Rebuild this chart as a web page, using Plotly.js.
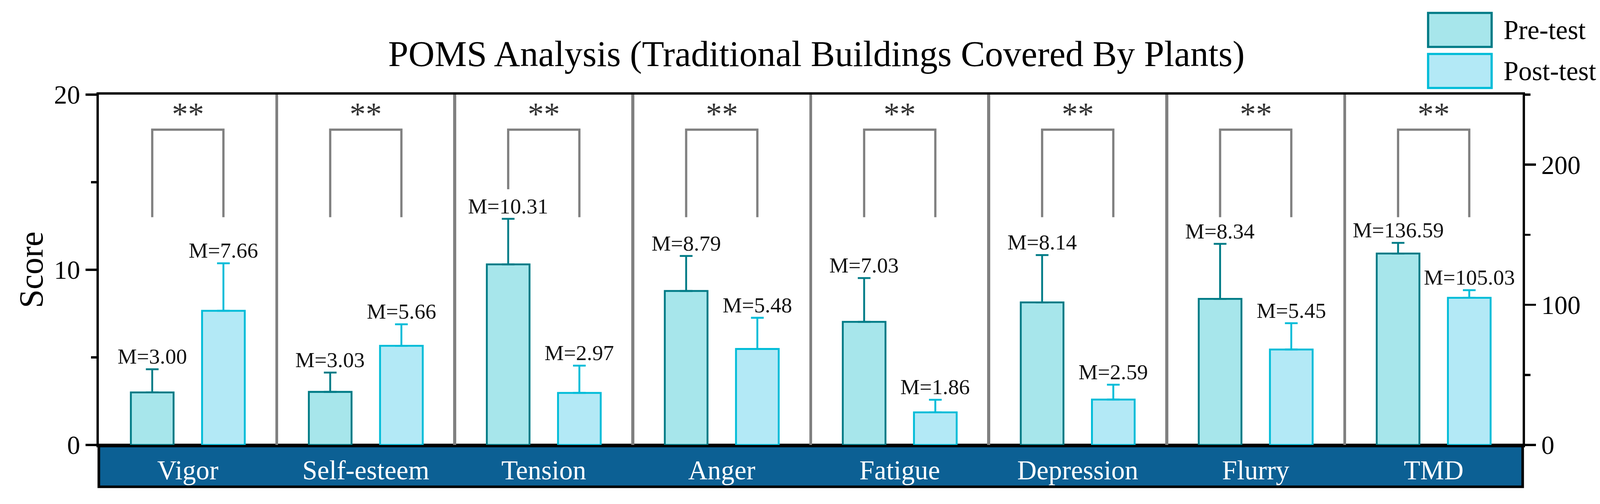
<!DOCTYPE html>
<html>
<head>
<meta charset="utf-8">
<script src="https://cdn.plot.ly/plotly-3.0.1.min.js"></script>
<style>
html,body{margin:0;padding:0;background:#fff;overflow:hidden;}
#chart{position:absolute;left:0;top:0;width:100vw;height:100vh;}
</style>
</head>
<body>
<div id="chart"></div>
<script>
// ---------------- data ----------------
const categories = ['Vigor', 'Self-esteem', 'Tension', 'Anger', 'Fatigue', 'Depression', 'Flurry', 'TMD'];
const leftCategories = ['Vigor', 'Self-esteem', 'Tension', 'Anger', 'Fatigue', 'Depression', 'Flurry'];
const rightCategories = ['TMD'];
const preMeans  = [3.00, 3.03, 10.31, 8.79, 7.03, 8.14, 8.34, 136.59];
const postMeans = [7.66, 5.66, 2.97, 5.48, 1.86, 2.59, 5.45, 105.03];
const preErr    = [1.32, 1.10, 2.60, 2.00, 2.50, 2.70, 3.14, 7.6];
const postErr   = [2.71, 1.23, 1.56, 1.78, 0.72, 0.85, 1.50, 5.4];
const sigMarks  = ['**', '**', '**', '**', '**', '**', '**', '**'];
const bracketTop     = [18, 18, 18, 18, 18, 18, 18, 18];
const bracketLegPre  = [13, 13, 14.6, 13, 13, 13, 13, 13];
const bracketLegPost = [13, 13, 13, 13, 13, 13, 13, 13];
const leftTickVals  = [0, 10, 20];
const leftMinorVals = [5, 15];
const rightTickVals = [0, 100, 200];
const rightMinorVals = [50, 150, 250];
const seriesNames = ['Pre-test', 'Post-test'];

// ---------------- geometry (reference pixel space 4282 x 1289) ----------------
const RW = 4282, RH = 1289;
const W = window.innerWidth || RW, H = window.innerHeight || RH;
const sx = W / RW, sy = H / RH, s = Math.min(sx, sy);
const PL = 265, PR = 4075, PT = 242, PB = 1138, BAND_BOTTOM = 1245;
const FONT = '"Liberation Serif", "Times New Roman", Times, serif';
const BARGAP = 0.2, BARGROUPGAP = 0.4;
const OFF = (1 - BARGAP) / 4; // centre offset of each bar within its group (category units)
const preFill = '#a7e6eb', preLine = '#007b86';
const postFill = '#b3e9f6', postLine = '#00bcd8';
const bandColor = '#0c6094';
const sepColor = '#808080';

const px2x = p => (p - PL) / (PR - PL);
const px2y = p => (PB - p) / (PB - PT);

const nLeft = leftCategories.length;
function errBar(arr, color) {
  return {type: 'data', array: arr, arrayminus: arr.map(() => 0), symmetric: false,
          color: color, thickness: 5 * s, width: 17 * s, visible: true};
}
function barTrace(x, y, err, fill, line, axis, name) {
  return {type: 'bar', x: x, y: y, yaxis: axis, name: name, showlegend: false,
          marker: {color: fill, line: {color: line, width: 5 * s}},
          error_y: errBar(err, line), hoverinfo: 'x+y'};
}
const traces = [
  barTrace(leftCategories, preMeans.slice(0, nLeft), preErr.slice(0, nLeft), preFill, preLine, 'y', seriesNames[0]),
  barTrace(leftCategories, postMeans.slice(0, nLeft), postErr.slice(0, nLeft), postFill, postLine, 'y', seriesNames[1]),
  barTrace(rightCategories, preMeans.slice(nLeft), preErr.slice(nLeft), preFill, preLine, 'y2', seriesNames[0]),
  barTrace(rightCategories, postMeans.slice(nLeft), postErr.slice(nLeft), postFill, postLine, 'y2', seriesNames[1])
];

const annotations = [];
const shapes = [];

categories.forEach((c, i) => {
  const yref = i < nLeft ? 'y' : 'y2';
  annotations.push({x: i - OFF, y: preMeans[i] + preErr[i], xref: 'x', yref: yref,
    text: 'M=' + preMeans[i].toFixed(2), showarrow: false, xanchor: 'center', yanchor: 'bottom',
    font: {family: FONT, size: 58 * s, color: '#111'}});
  annotations.push({x: i + OFF, y: postMeans[i] + postErr[i], xref: 'x', yref: yref,
    text: 'M=' + postMeans[i].toFixed(2), showarrow: false, xanchor: 'center', yanchor: 'bottom',
    font: {family: FONT, size: 58 * s, color: '#111'}});
  annotations.push({x: i, y: bracketTop[i], xref: 'x', yref: 'y', text: sigMarks[i],
    showarrow: false, xanchor: 'center', yanchor: 'bottom', yshift: -8 * s,
    font: {family: FONT, size: 86 * s, color: '#333'}});
  shapes.push({type: 'path', xref: 'x', yref: 'y', layer: 'above',
    path: `M${i - OFF},${bracketLegPre[i]}V${bracketTop[i]}H${i + OFF}V${bracketLegPost[i]}`,
    line: {color: sepColor, width: 6 * s}});
});

// category band under the plot area
shapes.push({type: 'rect', xref: 'paper', yref: 'paper', layer: 'below',
  x0: 0, x1: 1, y0: px2y(BAND_BOTTOM), y1: 0,
  fillcolor: bandColor, line: {color: '#000', width: 7 * s}});

// legend drawn by hand (large swatches)
const legBoxes = [
  {y0: 33, y1: 120, fill: preFill, line: preLine, name: seriesNames[0]},
  {y0: 138, y1: 225, fill: postFill, line: postLine, name: seriesNames[1]}
];
legBoxes.forEach(b => {
  shapes.push({type: 'rect', xref: 'paper', yref: 'paper', layer: 'above',
    x0: px2x(3822), x1: px2x(3992), y0: px2y(b.y1), y1: px2y(b.y0),
    fillcolor: b.fill, line: {color: b.line, width: 6 * s}});
  annotations.push({xref: 'paper', yref: 'paper', x: px2x(4022), y: px2y((b.y0 + b.y1) / 2),
    text: b.name, showarrow: false, xanchor: 'left', yanchor: 'middle',
    font: {family: FONT, size: 72 * s, color: '#000'}});
});

const axisCommon = {
  showgrid: false, zeroline: false, showline: true, linecolor: '#000', linewidth: 6 * s,
  ticks: 'outside', ticklen: 30 * s, tickwidth: 6 * s, tickcolor: '#000',
  tickfont: {family: FONT, size: 70 * s, color: '#000'}, fixedrange: true
};

const layout = {
  width: W, height: H,
  margin: {l: PL * sx, r: (RW - PR) * sx, t: PT * sy, b: (RH - PB) * sy, pad: 0},
  paper_bgcolor: '#fff', plot_bgcolor: '#fff',
  font: {family: FONT, color: '#000'},
  title: {text: 'POMS Analysis (Traditional Buildings Covered By Plants)',
    font: {family: FONT, size: 97 * s, color: '#000'},
    x: 2185 / RW, xanchor: 'center', y: 1 - 137 / RH, yanchor: 'middle'},
  barmode: 'group', bargap: BARGAP, bargroupgap: BARGROUPGAP,
  showlegend: false,
  xaxis: {type: 'category', categoryorder: 'array', categoryarray: categories,
    range: [-0.5, categories.length - 0.5], tickson: 'boundaries',
    showgrid: true, gridcolor: sepColor, gridwidth: 8 * s,
    showline: true, mirror: true, linecolor: '#000', linewidth: 6 * s,
    ticks: '', ticklabelstandoff: 12 * s,
    tickfont: {family: FONT, size: 72 * s, color: '#fff'}, fixedrange: true},
  yaxis: Object.assign({}, axisCommon, {range: [0, 20], tickvals: leftTickVals,
    minor: {tickvals: leftMinorVals, ticks: 'outside', ticklen: 15 * s, tickwidth: 6 * s, tickcolor: '#000'},
    title: {text: 'Score', font: {family: FONT, size: 90 * s, color: '#000'}, standoff: 2 * s}}),
  yaxis2: Object.assign({}, axisCommon, {range: [0, 250], tickvals: rightTickVals,
    overlaying: 'y', side: 'right',
    minor: {tickvals: rightMinorVals, ticks: 'outside', ticklen: 15 * s, tickwidth: 6 * s, tickcolor: '#000'}}),
  shapes: shapes,
  annotations: annotations
};

Plotly.newPlot('chart', traces, layout, {displayModeBar: false, staticPlot: true});
</script>
</body>
</html>
